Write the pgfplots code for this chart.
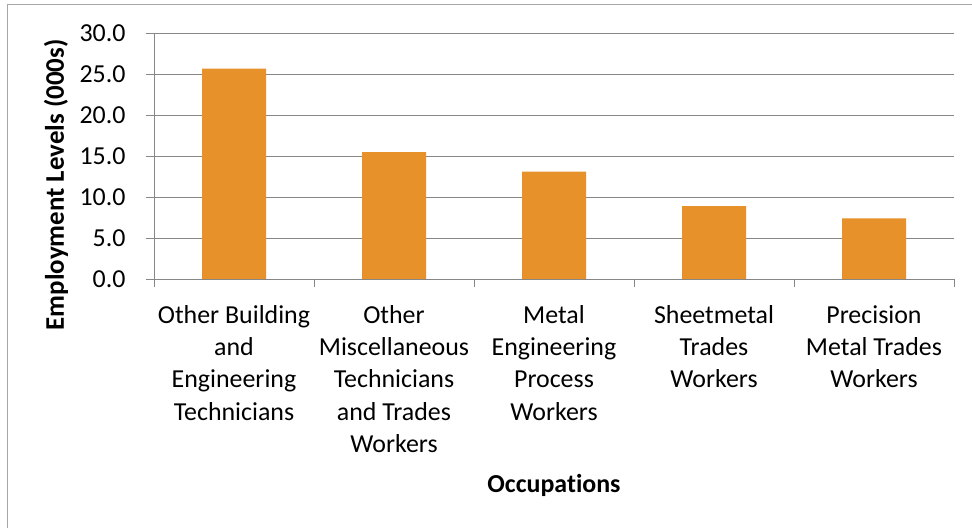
\documentclass[border=0pt]{standalone}
\usepackage{pgfplots}
\pgfplotsset{compat=1.18}
\usepackage{fontspec}
\setmainfont{Carlito}[Ligatures=NoCommon]
\definecolor{barc}{HTML}{E7912A}
\definecolor{gridc}{HTML}{878787}
\definecolor{framec}{HTML}{A6A6A6}
\newcommand{\lbl}{\fontsize{26}{32.5}\selectfont}
\begin{document}
\begin{tikzpicture}
\useasboundingbox (0,0) rectangle (972bp,528bp);
\draw[framec, line width=1.2bp] (7.5bp,-2bp) -- (7.5bp,523.5bp) -- (975bp,523.5bp);
\begin{axis}[
  at={(154bp,249bp)}, anchor=south west,
  scale only axis, width=800bp, height=245.7bp,
  xmin=-0.5, xmax=4.5, ymin=0, ymax=30,
  axis x line*=bottom, axis y line*=left,
  axis line style={-, gridc, line width=1bp},
  xtick pos=bottom, ytick pos=left,
  tick align=outside,
  ytick={0,5,10,15,20,25,30},
  xtick={0,1,2,3,4},
  xticklabels={{Other Building\\and\\Engineering\\Technicians},
               {Other\\Miscellaneous\\Technicians\\and Trades\\Workers},
               {Metal\\Engineering\\Process\\Workers},
               {Sheetmetal\\Trades\\Workers},
               {Precision\\Metal Trades\\Workers}},
  minor xtick={-0.5,0.5,1.5,2.5,3.5,4.5},
  major x tick style={draw=none},
  major tick length=8bp, minor tick length=8bp,
  tick style={gridc, line width=1bp},
  ymajorgrids, grid style={gridc, line width=1bp},
  /pgf/number format/fixed, /pgf/number format/fixed zerofill,
  /pgf/number format/precision=1, /pgf/number format/assume math mode=true,
  yticklabel style={font=\lbl, xshift=-17bp},
  xticklabel style={font=\lbl, align=center, inner sep=0pt, yshift=-18bp},
  ylabel={Employment Levels (000s)},
  ylabel style={font=\bfseries\fontsize{27}{32.5}\selectfont, at={(axis description cs:-0.1125,0.383)}, anchor=base, rotate=0},
  xlabel={Occupations},
  xlabel style={font=\bfseries\lbl, at={(axis description cs:0.5,-0.867)}, anchor=base},
]
\addplot[ybar, bar width=64bp, fill=barc, draw=none] coordinates {
  (0,25.7) (1,15.5) (2,13.1) (3,8.9) (4,7.4)
};
\end{axis}
\end{tikzpicture}
\end{document}
